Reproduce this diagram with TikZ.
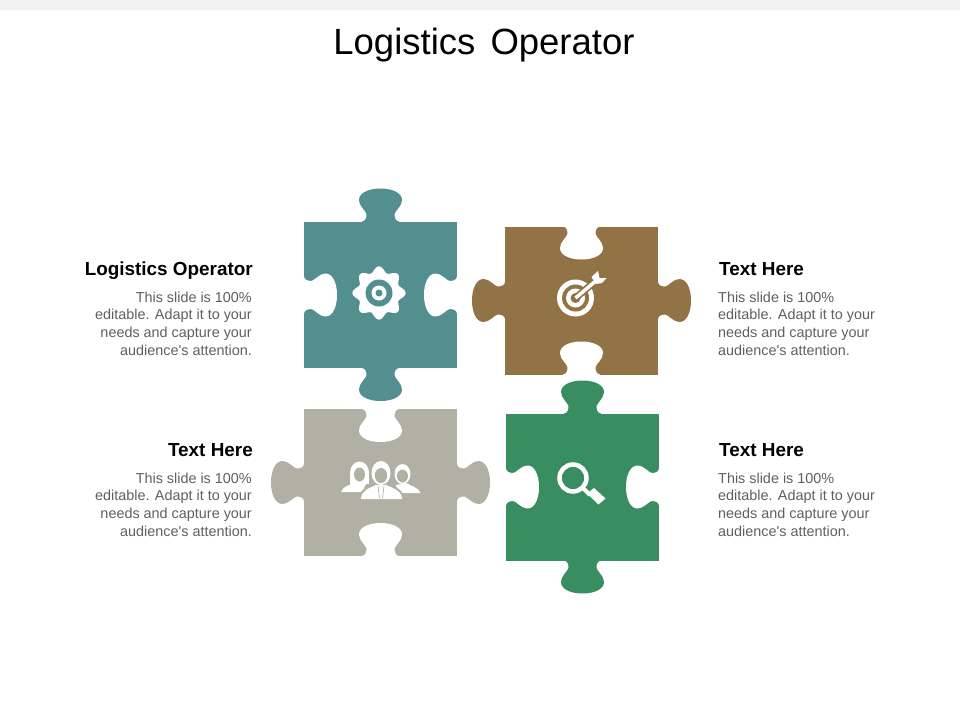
\documentclass[tikz,border=0pt]{standalone}
\usepackage{fontspec}
\setmainfont{Liberation Sans}
\definecolor{tealpiece}{HTML}{548F90}
\definecolor{brownpiece}{HTML}{917345}
\definecolor{greypiece}{HTML}{B0B0A5}
\definecolor{greenpiece}{HTML}{398E61}
\definecolor{bodygrey}{HTML}{5F5F5F}
\newcommand{\bodylines}{This slide is 100\%\\editable. Adapt it to your\\needs and capture your\\audience\textquotesingle s attention.}
\tikzset{
    puzzletab/.pic={
        \path[pic actions] (-18.5,1) -- (-18.5,0) .. controls (-15,-0.5) and (-14,-3.5) .. (-14,-7.5)
            .. controls (-15,-11) and (-21.5,-15.5) .. (-21.5,-21.5)
            .. controls (-21.5,-28) and (-13,-33) .. (0,-33)
            .. controls (13,-33) and (21.5,-28) .. (21.5,-21.5)
            .. controls (21.5,-15.5) and (15,-11) .. (14,-7.5)
            .. controls (14,-3.5) and (15,-0.5) .. (18.5,0) -- (18.5,1) -- cycle;
    },
    headtext/.style={font=\fontsize{18.9}{21}\selectfont\bfseries,black,inner sep=0pt},
    bodytext/.style={font=\fontsize{14.4}{17.8}\selectfont,bodygrey,inner sep=0pt},
}
\begin{document}
\begin{tikzpicture}[x=1pt,y=-1pt]
    \useasboundingbox (0,0) rectangle (960,720);
    \fill[black!5] (0,0) rectangle (960,10);

    % Title
    \node[anchor=base,inner sep=0pt] (title) at (484,54) {\fontsize{36.5}{40}\selectfont Logistics\hspace{5pt} Operator};

    % Teal piece
    \fill[tealpiece] (304,221.5) rectangle (457,368);
    \pic[fill=tealpiece] at (380.5,221.5) {puzzletab};
    \pic[fill=tealpiece,rotate=180] at (380.5,368) {puzzletab};
    \pic[fill=white,rotate=-90] at (304,295) {puzzletab};
    \pic[fill=white,rotate=90] at (457,295) {puzzletab};

    % Brown piece
    \fill[brownpiece] (505,226.5) rectangle (658,374.5);
    \pic[fill=brownpiece,rotate=90] at (505,300.5) {puzzletab};
    \pic[fill=brownpiece,rotate=-90] at (658,300.5) {puzzletab};
    \pic[fill=white,rotate=180] at (581.5,226.5) {puzzletab};
    \pic[fill=white] at (581.5,374.5) {puzzletab};

    % Grey piece
    \fill[greypiece] (304,409) rectangle (457,556);
    \pic[fill=greypiece,rotate=90] at (304,482.5) {puzzletab};
    \pic[fill=greypiece,rotate=-90] at (457,482.5) {puzzletab};
    \pic[fill=white,rotate=180] at (380.5,409) {puzzletab};
    \pic[fill=white] at (380.5,556) {puzzletab};

    % Green piece
    \fill[greenpiece] (506,413.5) rectangle (659,560.5);
    \pic[fill=greenpiece] at (582.5,413.5) {puzzletab};
    \pic[fill=greenpiece,rotate=180] at (582.5,560.5) {puzzletab};
    \pic[fill=white,rotate=-90] at (506,487) {puzzletab};
    \pic[fill=white,rotate=90] at (659,487) {puzzletab};

    % Gear icon
    \begin{scope}[shift={(379,293)}]
        \fill[white] plot[domain=0:360,samples=145] ({(23.8+2.8*cos(8*\x))*cos(\x)},{(23.8+2.8*cos(8*\x))*sin(\x)}) -- cycle;
        \fill[tealpiece] (0,0) circle[radius=13.5];
        \fill[white] (0,0) circle[radius=7.5];
        \fill[tealpiece] (0,0) circle[radius=3.5];
    \end{scope}

    % Target icon
    \begin{scope}[shift={(575.5,298)}]
        \fill[white] (0,0) circle[radius=18.5];
        \fill[brownpiece] (0,0) circle[radius=13.5];
        \fill[white] (0,0) circle[radius=9.5];
        \fill[brownpiece] (0,0) circle[radius=5];
        \draw[brownpiece,line width=7pt] (0,0) -- (20,-17);
        \draw[white,line width=3.5pt] (0,0) -- (19,-16);
        \fill[white] (22.5,-27) -- (24,-20) -- (31,-20) -- (26.5,-15) -- (20,-14) -- (16,-21) -- cycle;
    \end{scope}

    % Magnifier icon
    \draw[white,line width=4.5pt] (573,478) circle[radius=13.5];
    \draw[white,line width=4pt] (583,488) -- (590,495);
    \fill[white] (594,488) -- (605.5,498.5) -- (598.5,504.5) -- (587,493.5) -- cycle;

    % People icon
    \fill[white] (341,492) .. controls (343,486) and (350,485) .. (356,482) -- (366,484) -- (362,492) -- cycle;
    \fill[white] (359.5,473) ellipse (9.5 and 11.5);
    \fill[white] (350,484) -- (369,484) -- (369,475) -- (350,475) -- cycle;
    \fill[greypiece] (359.5,474.5) ellipse (5.5 and 7);
    \fill[white] (420.5,493) .. controls (418,487) and (411,486) .. (406,483) -- (396,485) -- (398,493) -- cycle;
    \fill[white] (402.5,474) ellipse (8 and 10);
    \fill[greypiece] (402.5,476) ellipse (5.5 and 6.5);
    \fill[greypiece] (358,499.5) .. controls (358,491) and (368,486) .. (374,483) -- (388,483) .. controls (394,486) and (405,491) .. (405,499.5) -- cycle;
    \fill[white] (361,499) .. controls (361,491) and (369,488) .. (376,485) -- (386,485) .. controls (393,488) and (402,491) .. (402,499) -- cycle;
    \fill[white] (381,473) ellipse (9.5 and 12);
    \fill[greypiece] (381,475.5) ellipse (6.2 and 7.5);
    \draw[greypiece,line width=0.7pt] (378,486) -- (379.5,498) (384,486) -- (382.5,498);

    % Left texts
    \node[headtext,anchor=base east] (headone) at (253,275) {Logistics Operator};
    \node[bodytext,anchor=north east,align=right] (bodyone) at (252,291.5) {\bodylines};
    \node[headtext,anchor=base east] (headthree) at (253,456) {Text Here};
    \node[bodytext,anchor=north east,align=right] (bodythree) at (252,472.5) {\bodylines};

    % Right texts
    \node[headtext,anchor=base west] (headtwo) at (719,275) {Text Here};
    \node[bodytext,anchor=north west,align=left] (bodytwo) at (718,291.5) {\bodylines};
    \node[headtext,anchor=base west] (headfour) at (719,456) {Text Here};
    \node[bodytext,anchor=north west,align=left] (bodyfour) at (718,472.5) {\bodylines};
\end{tikzpicture}
\end{document}
